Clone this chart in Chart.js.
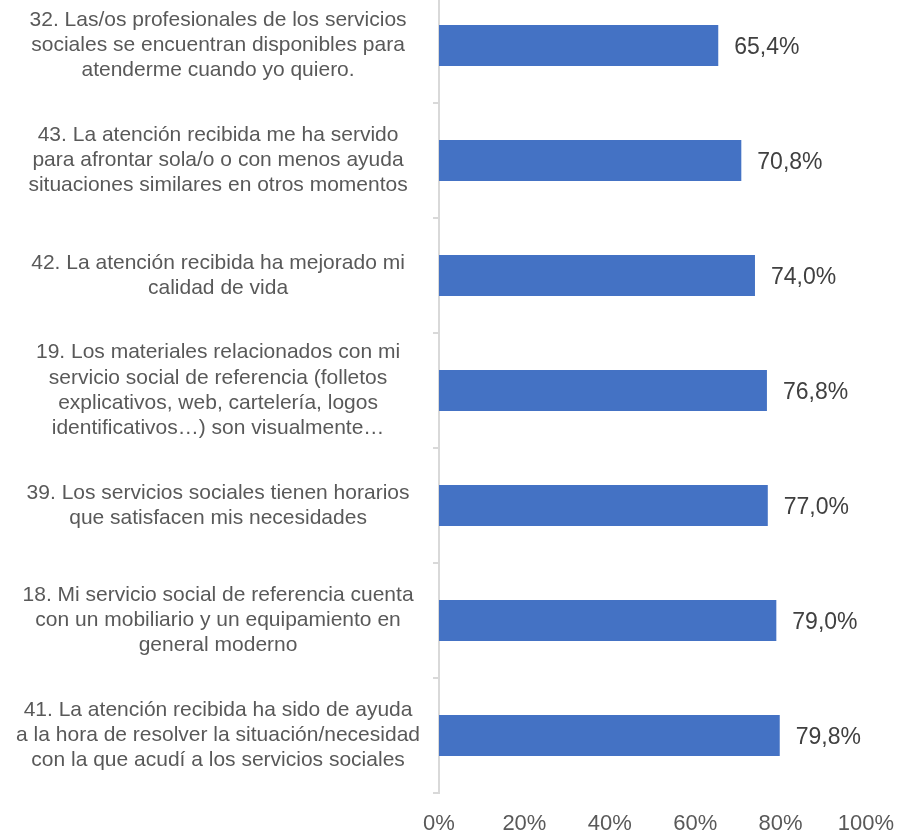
<!DOCTYPE html>
<html>
<head>
<meta charset="utf-8">
<script src="https://cdn.jsdelivr.net/npm/chart.js@4/dist/chart.umd.min.js"></script>
<style>
  html, body { margin: 0; padding: 0; background: #fff; overflow: hidden; }
  #wrap { position: absolute; left: 0; top: -12px; width: 899px; height: 845px; }
</style>
</head>
<body>
<div id="wrap"><canvas id="chart1"></canvas></div>
<script>
// data, top to bottom
const questions = [
    ["32. Las/os profesionales de los servicios", "sociales se encuentran disponibles para", "atenderme cuando yo quiero."],
    ["43. La atención recibida me ha servido", "para afrontar sola/o o con menos ayuda", "situaciones similares en otros momentos"],
    ["42. La atención recibida ha mejorado mi", "calidad de vida"],
    ["19. Los materiales relacionados con mi", "servicio social de referencia (folletos", "explicativos, web, cartelería, logos", "identificativos…) son visualmente…"],
    ["39. Los servicios sociales tienen horarios", "que satisfacen mis necesidades"],
    ["18. Mi servicio social de referencia cuenta", "con un mobiliario y un equipamiento en", "general moderno"],
    ["41. La atención recibida ha sido de ayuda", "a la hora de resolver la situación/necesidad", "con la que acudí a los servicios sociales"]
];
const percentages = [65.4, 70.8, 74.0, 76.8, 77.0, 79.0, 79.8];
const axisTicks = [0, 20, 40, 60, 80, 100];

const fmt = v => v.toFixed(1).replace('.', ',') + '%';

// value labels at the end of each bar
const barLabels = {
    id: 'barLabels',
    afterDatasetsDraw(chart) {
        const ctx = chart.ctx;
        const meta = chart.getDatasetMeta(0);
        ctx.save();
        ctx.font = '23px "Liberation Sans", Arial, sans-serif';
        ctx.fillStyle = '#404040';
        ctx.textAlign = 'left';
        ctx.textBaseline = 'middle';
        meta.data.forEach((bar, i) => {
            ctx.fillText(fmt(percentages[i]), bar.x + 16, bar.y + 2);
        });
        ctx.restore();
    }
};

const ctx = document.getElementById('chart1').getContext('2d');

const config = {
    type: 'bar',
    data: {
        labels: questions,
        datasets: [{
            data: percentages,
            backgroundColor: '#4472C4',
            categoryPercentage: 1,
            barPercentage: 0.357,
        }]
    },
    options: {
        indexAxis: 'y',
        responsive: true,
        maintainAspectRatio: false,
        animation: false,
        layout: { padding: { top: 0, right: 33, bottom: 0, left: 0 } },
        plugins: {
            legend: { display: false },
            tooltip: { enabled: false },
        },
        scales: {
            x: {
                min: 0,
                max: 100,
                afterBuildTicks: scale => { scale.ticks = axisTicks.map(v => ({ value: v })); },
                afterFit: scale => {
                    scale.height = 40;
                    scale.paddingLeft = 0;
                    scale.paddingRight = 0;
                },
                grid: { display: false, drawTicks: false },
                border: { display: false },
                ticks: {
                    padding: 18,
                    color: '#595959',
                    font: { size: 22, family: '"Liberation Sans", Arial, sans-serif' },
                    callback: v => v + '%',
                },
            },
            y: {
                afterFit: scale => {
                    scale.width = 439;
                    scale.paddingTop = 0;
                    scale.paddingBottom = 0;
                },
                grid: {
                    display: true,
                    drawOnChartArea: false,
                    offset: true,
                    tickLength: 6,
                    color: '#d9d9d9',
                    lineWidth: 2,
                },
                border: { display: true, color: '#d9d9d9', width: 2 },
                ticks: {
                    crossAlign: 'center',
                    padding: 13,
                    color: '#595959',
                    font: { size: 21, family: '"Liberation Sans", Arial, sans-serif', lineHeight: 1.2 },
                },
            },
        },
    },
    plugins: [barLabels],
};

const myChart = new Chart(ctx, config);
</script>
</body>
</html>
